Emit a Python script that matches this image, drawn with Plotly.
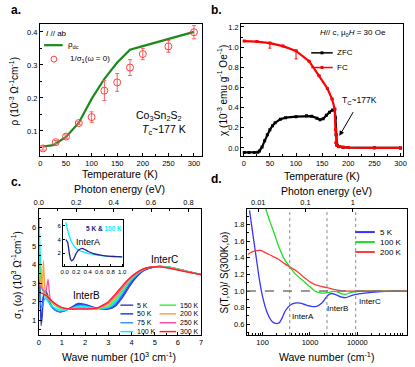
import math
import plotly.graph_objects as go

W, H = 415, 367
def px(x): return x / W
def py(y): return 1 - y / H

FONT = "Liberation Sans"

# ---------------- panel a ----------------
a_T_line = [5, 25, 50, 75, 100, 125, 150, 175, 200, 250, 300]
a_rho_dc = [0.053, 0.057, 0.082, 0.125, 0.197, 0.258, 0.307, 0.346, 0.357, 0.378, 0.400]
a_T_pts = [5, 30, 50, 75, 100, 125, 150, 175, 200, 250, 300]
a_rho_opt = [0.047, 0.066, 0.083, 0.124, 0.142, 0.222, 0.247, 0.292, 0.333, 0.356, 0.399]
a_rho_err = [0.005, 0.005, 0.005, 0.004, 0.016, 0.03, 0.027, 0.024, 0.017, 0.018, 0.02]

# ---------------- panel b ----------------
b_T_fc = [1, 25, 50, 75, 100, 125, 144, 160, 169, 174, 175.5, 176.5, 178, 182, 190, 200, 250, 300]
b_chi_fc = [1.06, 1.055, 1.04, 1.01, 0.963, 0.86, 0.715, 0.59, 0.485, 0.386, 0.18, 0.05, 0.025, 0.012, 0.006, 0.004, 0.001, 0.0]
b_fc_errminus = [0, 0, 0.05, 0, 0.08, 0, 0, 0, 0, 0, 0, 0, 0, 0, 0, 0, 0, 0]
b_T_zfc = [1, 10, 20, 27, 30, 35, 40, 45, 50, 55, 60, 70, 80, 100, 120, 130, 140, 146, 152, 158, 164, 170, 174,
           175.5, 176.5, 178, 182, 190, 200, 250, 300]
b_chi_zfc = [-0.045, -0.045, -0.045, -0.043, -0.03, 0.01, 0.07, 0.13, 0.18, 0.22, 0.25, 0.285, 0.30, 0.31, 0.318,
             0.315, 0.295, 0.28, 0.29, 0.325, 0.355, 0.375, 0.38, 0.30, 0.13, 0.04, 0.015, 0.006, 0.004, 0.001, 0.0]

# ---------------- panel c ----------------
c_wn = [0.02, 0.05, 0.1, 0.15, 0.2, 0.3, 0.4, 0.5, 0.7, 0.9, 1.1, 1.4, 1.7, 2.0, 2.5, 3.0, 3.3, 3.6, 3.9, 4.2,
        4.5, 4.8, 5.2, 5.6, 6.0, 6.5, 7.0]
c_temps = ["5 K", "50 K", "75 K", "100 K", "150 K", "200 K", "250 K", "300 K"]
c_colors = ["#4646b4", "#1f3fff", "#3f8fff", "#00f0ff", "#40f040", "#ffa040", "#ff50a0", "#ff2020"]
c_s5 = [4.0, 3.0, 0.7, 1.2, 2.2, 2.6, 2.3, 1.9, 1.55, 1.45, 1.5, 1.7, 1.9, 1.85, 1.65, 1.6, 1.75, 2.2, 2.8, 3.3, 3.65, 3.8, 3.9, 3.85, 3.75, 3.6, 3.45]
c_s50 = [3.5, 2.5, 1.0, 1.5, 2.3, 2.5, 2.2, 1.85, 1.55, 1.45, 1.5, 1.68, 1.85, 1.82, 1.65, 1.62, 1.8, 2.3, 2.9, 3.35, 3.67, 3.82, 3.9, 3.85, 3.75, 3.6, 3.45]
c_s75 = [5.0, 3.5, 1.8, 1.7, 2.0, 2.2, 2.1, 1.8, 1.55, 1.48, 1.52, 1.65, 1.8, 1.78, 1.63, 1.65, 1.9, 2.4, 3.0, 3.4, 3.7, 3.83, 3.9, 3.85, 3.75, 3.6, 3.45]
c_s100 = [6.5, 5.0, 3.7, 3.0, 2.6, 2.2, 2.0, 1.85, 1.65, 1.55, 1.53, 1.62, 1.75, 1.74, 1.63, 1.7, 2.0, 2.5, 3.05, 3.45, 3.72, 3.84, 3.9, 3.85, 3.75, 3.6, 3.45]
c_s150 = [5.0, 3.8, 3.0, 2.7, 2.5, 2.3, 2.15, 2.0, 1.8, 1.65, 1.58, 1.6, 1.68, 1.68, 1.62, 1.75, 2.1, 2.6, 3.1, 3.5, 3.73, 3.84, 3.9, 3.85, 3.75, 3.6, 3.45]
c_s200 = [3.8, 3.2, 2.9, 2.7, 4.2, 2.4, 2.3, 2.1, 1.85, 1.7, 1.62, 1.6, 1.64, 1.64, 1.62, 1.85, 2.2, 2.7, 3.15, 3.5, 3.74, 3.85, 3.88, 3.82, 3.72, 3.58, 3.45]
c_s250 = [3.0, 2.9, 2.8, 2.7, 2.6, 2.5, 3.2, 2.15, 1.88, 1.72, 1.64, 1.6, 1.62, 1.62, 1.63, 1.92, 2.3, 2.75, 3.2, 3.52, 3.75, 3.85, 3.88, 3.82, 3.72, 3.58, 3.45]
c_s300 = [2.5, 2.5, 2.45, 2.45, 2.4, 2.35, 2.25, 2.1, 1.9, 1.75, 1.65, 1.6, 1.6, 1.6, 1.65, 2.0, 2.4, 2.85, 3.25, 3.55, 3.76, 3.85, 3.87, 3.8, 3.7, 3.57, 3.45]
c_series = [c_s5, c_s50, c_s75, c_s100, c_s150, c_s200, c_s250, c_s300]

inset_wn = [0.02, 0.05, 0.08, 0.1, 0.12, 0.15, 0.2, 0.25, 0.3, 0.35, 0.4, 0.5, 0.6, 0.7, 0.8, 0.9, 1.0]
inset_5K = [4.0, 3.6, 2.0, 1.2, 0.9, 1.1, 2.0, 2.5, 2.7, 2.55, 2.3, 1.95, 1.75, 1.62, 1.55, 1.5, 1.48]
inset_100K = [6.5, 5.4, 4.5, 4.0, 3.6, 3.2, 2.7, 2.4, 2.25, 2.1, 2.0, 1.85, 1.7, 1.62, 1.55, 1.5, 1.48]

# ---------------- panel d ----------------
d_x5 = [53, 62, 73, 86, 100, 127, 161, 190, 221, 260, 300, 380, 480, 620, 800, 1000, 1375, 1800, 2400, 2800, 3400,
        4500, 5700, 7500, 10800, 20000, 50000, 120000]
d_y5 = [1.97, 1.69, 1.41, 1.13, 0.93, 0.73, 0.63, 0.61, 0.615, 0.68, 0.76, 0.83, 0.855, 0.855, 0.835, 0.82, 0.815,
        0.86, 0.95, 0.97, 0.96, 0.93, 0.92, 0.945, 0.965, 0.985, 1.0, 1.0]
d_x100 = [117, 140, 170, 221, 290, 374, 500, 728, 1000, 1375, 1800, 2400, 3000, 3800, 4700, 5700, 7500, 11000, 50000, 120000]
d_y100 = [1.99, 1.85, 1.72, 1.53, 1.38, 1.29, 1.2, 1.12, 1.05, 0.99, 0.975, 0.98, 0.995, 0.99, 0.965, 0.96, 0.985, 1.0, 1.0, 1.0]
d_x200 = [49, 60, 75, 90, 117, 160, 221, 290, 374, 520, 728, 1000, 1375, 2285, 3800, 6000, 120000]
d_y200 = [1.44, 1.47, 1.485, 1.49, 1.46, 1.42, 1.38, 1.33, 1.29, 1.24, 1.17, 1.11, 1.07, 1.04, 1.01, 1.0, 1.0]
d_names = ["5 K", "100 K", "200 K"]
d_colors = ["#3535ff", "#22dd22", "#ff3b3b"]
d_guides = [374, 2285, 9230]
CM_PER_EV = 8065.54

fig = go.Figure()

# panel a traces
fig.add_trace(go.Scatter(x=a_T_line, y=a_rho_dc, mode="lines", line=dict(color="#1a8a1a", width=2.2),
                         xaxis="x", yaxis="y", showlegend=False))
fig.add_trace(go.Scatter(x=a_T_pts, y=a_rho_opt, mode="markers",
                         marker=dict(symbol="circle-open", size=7, color="#ff4040", line=dict(width=1)),
                         error_y=dict(type="data", array=a_rho_err, color="#ff6060", thickness=1, width=2),
                         xaxis="x", yaxis="y", showlegend=False))

# panel b traces
fig.add_trace(go.Scatter(x=b_T_zfc, y=b_chi_zfc, mode="lines+markers", line=dict(color="black", width=2.2),
                         marker=dict(symbol="square", size=3, color="black"),
                         xaxis="x2", yaxis="y2", showlegend=False))
fig.add_trace(go.Scatter(x=b_T_fc, y=b_chi_fc, mode="lines+markers", line=dict(color="#ff0000", width=2.2),
                         marker=dict(symbol="square", size=3, color="#ff0000"),
                         error_y=dict(type="data", symmetric=False, array=[0] * len(b_T_fc),
                                      arrayminus=b_fc_errminus, color="#ff0000", thickness=1, width=1.5),
                         xaxis="x2", yaxis="y2", showlegend=False))

# panel c traces
for name, col, ys in zip(c_temps, c_colors, c_series):
    fig.add_trace(go.Scatter(x=c_wn, y=ys, mode="lines", line=dict(color=col, width=1.3, shape="spline", smoothing=0.6),
                             xaxis="x3", yaxis="y3", showlegend=False, name=name))
fig.add_trace(go.Scatter(x=[c_wn[0] / CM_PER_EV * 1000], y=[c_s5[0]], mode="markers", marker=dict(opacity=0),
                         xaxis="x5", yaxis="y3", showlegend=False, hoverinfo="skip"))
# inset
fig.add_trace(go.Scatter(x=inset_wn, y=inset_100K, mode="lines", line=dict(color="#00f0ff", width=1.3, shape="spline", smoothing=0.6),
                         xaxis="x6", yaxis="y6", showlegend=False))
fig.add_trace(go.Scatter(x=inset_wn, y=inset_5K, mode="lines", line=dict(color="#22228a", width=1.3, shape="spline", smoothing=0.6),
                         xaxis="x6", yaxis="y6", showlegend=False))

# panel d traces
for name, col, xs, ys in zip(d_names, d_colors, [d_x5, d_x100, d_x200], [d_y5, d_y100, d_y200]):
    fig.add_trace(go.Scatter(x=xs, y=ys, mode="lines", line=dict(color=col, width=1.3, shape="spline", smoothing=0.8),
                             xaxis="x4", yaxis="y4", showlegend=False, name=name))
fig.add_trace(go.Scatter(x=[d_x200[0] / CM_PER_EV], y=[d_y200[0]], mode="markers", marker=dict(opacity=0),
                         xaxis="x7", yaxis="y4", showlegend=False, hoverinfo="skip"))

common = dict(showline=True, linecolor="black", linewidth=1, ticks="inside", ticklen=3, tickwidth=1,
              tickcolor="black", showgrid=False, zeroline=False, tickfont=dict(size=7.5, color="black", family=FONT))
minor = dict(ticks="inside", ticklen=2, tickcolor="black", showgrid=False)

def ax(**kw):
    d = dict(common)
    d.update(kw)
    return d

ya = [py(155.7), py(22.7)]
yc = [py(335.0), py(208.3)]
d_lo, d_hi = math.log10(46.7), 5.05
small = dict(size=6, color="black", family=FONT)

fig.update_layout(
    width=W, height=H, margin=dict(l=0, r=0, t=0, b=0),
    paper_bgcolor="white", plot_bgcolor="white",
    font=dict(family=FONT, size=8, color="black"),
    xaxis=ax(mirror=True, domain=[px(35.7), px(201)], range=[-1, 315], dtick=50, tick0=0,
             minor=dict(**minor, dtick=25), anchor="y"),
    yaxis=ax(mirror=True, domain=ya, range=[0.0233, 0.425], dtick=0.1, tick0=0, tickformat=".1f",
             minor=dict(**minor, dtick=0.05), anchor="x"),
    xaxis2=ax(mirror=True, domain=[px(241.5), px(407.3)], range=[-4.8, 305.6], dtick=50, tick0=0,
              minor=dict(**minor, dtick=25), anchor="y2"),
    yaxis2=ax(mirror=True, domain=ya, range=[-0.083, 1.233], dtick=0.2, tick0=0, tickformat=".1f",
              minor=dict(**minor, dtick=0.1), anchor="x2"),
    xaxis3=ax(mirror=False, domain=[px(34.5), px(200.5)], range=[0, 7], dtick=1, tick0=0,
              minor=dict(**minor, dtick=0.5), anchor="y3"),
    yaxis3=ax(mirror=True, domain=yc, range=[0.2, 7], tickvals=[1, 2, 3, 4, 5, 6],
              minor=dict(**minor, tickvals=[0.5, 1.5, 2.5, 3.5, 4.5, 5.5, 6.5]), anchor="x3"),
    xaxis5=ax(overlaying="x3", side="top", anchor="y3", range=[0, 7000 / CM_PER_EV], dtick=0.2, tick0=0,
              tickformat=".1f", minor=dict(**minor, dtick=0.1)),
    xaxis6=ax(mirror=True, domain=[px(59.3), px(121)], range=[-0.03, 1.02], dtick=0.2, tick0=0,
              tickformat=".1f", anchor="y6", ticklen=2, tickfont=small),
    yaxis6=ax(mirror=True, domain=[py(266), py(219.3)], range=[0.1, 6.9], tickvals=[2, 4, 6],
              anchor="x6", ticklen=2, tickfont=small),
    xaxis4=ax(mirror=False, type="log", domain=[px(247.3), px(411)], range=[d_lo, d_hi],
              tickvals=[100, 1000, 10000], ticktext=["100", "1000", "10000"], anchor="y4",
              minor=dict(**minor, tickvals=[50, 60, 70, 80, 90, 200, 300, 400, 500, 600, 700, 800, 900,
                                             2000, 3000, 4000, 5000, 6000, 7000, 8000, 9000,
                                             20000, 30000, 40000, 50000, 60000, 70000, 80000, 90000])),
    yaxis4=ax(mirror=True, domain=yc, range=[0.47, 1.99], tickvals=[0.6, 0.8, 1.0, 1.2, 1.4, 1.6, 1.8],
              tickformat=".1f", minor=dict(**minor, tickvals=[0.5, 0.7, 0.9, 1.1, 1.3, 1.5, 1.7, 1.9]), anchor="x4"),
    xaxis7=ax(type="log", overlaying="x4", side="top", anchor="y4",
              range=[d_lo - math.log10(CM_PER_EV), d_hi - math.log10(CM_PER_EV)],
              tickvals=[0.01, 0.1, 1], ticktext=["0.01", "0.1", "1"]),
)

shapes = []
for g in d_guides:
    shapes.append(dict(type="line", xref="x4", yref="y4 domain", x0=g, x1=g, y0=0, y1=1,
                       line=dict(color="#888888", width=1, dash="dot")))
shapes.append(dict(type="line", xref="x4 domain", yref="y4", x0=0, x1=1, y0=1.0, y1=1.0,
                   line=dict(color="#777777", width=1.5, dash="dash")))

ann = []
def text(x, y, s, size=8, anchor="center", color="black", angle=0, bold=False):
    if bold:
        s = "<b>" + s + "</b>"
    ann.append(dict(x=px(x), y=py(y), xref="paper", yref="paper", text=s, showarrow=False, xanchor=anchor,
                    yanchor="middle", textangle=angle, font=dict(size=size, color=color, family=FONT)))

def leg_line(x0, x1, y, color, width=2):
    shapes.append(dict(type="line", xref="paper", yref="paper", x0=px(x0), x1=px(x1), y0=py(y), y1=py(y),
                       line=dict(color=color, width=width)))

# panel labels
text(4, 9, "a.", 12, "left", bold=True)
text(209, 9, "b.", 12, "left", bold=True)
text(4, 181, "c.", 12, "left", bold=True)
text(209, 178, "d.", 12, "left", bold=True)

# panel a
text(9, 90, "ρ (10<sup>-3</sup> Ω<sup>-1</sup>cm<sup>-1</sup>)", 10, angle=-90)
text(118, 173, "Temperature (K)", 10.5)
text(40, 33, "<i>I</i> // ab", 8, "left")
leg_line(40, 59, 44.3, "#1a8a1a", 2.2)
text(62, 44.3, "ρ<sub>dc</sub>", 8, "left")
shapes.append(dict(type="circle", xref="paper", yref="paper", x0=px(47), x1=px(53), y0=py(61.3), y1=py(55.3),
                   line=dict(color="#ff4040", width=1)))
text(64, 58.3, "1/σ<sub>1</sub>(ω = 0)", 8, "left")
text(157, 115.5, "Co<sub>3</sub>Sn<sub>2</sub>S<sub>2</sub>", 10.5)
text(163, 129, "<i>T</i><sub>c</sub>~177 K", 10.5)

# panel b
text(222, 90, "χ (10<sup>-3</sup> emu g<sup>-1</sup> Oe<sup>-1</sup>)", 10, angle=-90)
text(324, 175, "Temperature (K)", 10.5)
text(356, 32, "<i>H</i>// c, μ<sub>0</sub><i>H</i> = 30 Oe", 8)
leg_line(313, 335, 52, "black", 1.5)
shapes.append(dict(type="rect", xref="paper", yref="paper", x0=px(322.5), x1=px(325.5), y0=py(53.5), y1=py(50.5),
                   fillcolor="black", line=dict(width=0)))
text(337, 52, "ZFC", 8, "left")
leg_line(313, 335, 66.7, "#ff0000", 1.5)
shapes.append(dict(type="rect", xref="paper", yref="paper", x0=px(322.5), x1=px(325.5), y0=py(68.2), y1=py(65.2),
                   fillcolor="#ff0000", line=dict(width=0)))
text(337, 66.7, "FC", 8, "left")
ann.append(dict(x=183, y=0.12, ax=211, ay=0.37, xref="x2", yref="y2", axref="x2", ayref="y2", text="",
                showarrow=True, arrowhead=2, arrowsize=1, arrowwidth=1, arrowcolor="black"))
text(362, 100, "T<sub>C</sub>~177K", 8.5)

# panel c
text(12, 275, "σ<sub>1</sub> (ω) (10<sup>3</sup> Ω<sup>-1</sup>cm<sup>-1</sup>)", 10, angle=-90)
text(117, 356, "Wave number (10<sup>3</sup> cm<sup>-1</sup>)", 10.5)
text(117, 189, "Photon energy (eV)", 10.5)
ann.append(dict(x=2.06, y=2.33, xref="x3", yref="y3", text="InterB", showarrow=False,
                font=dict(size=10, family=FONT, color="black")))
ann.append(dict(x=5.41, y=4.27, xref="x3", yref="y3", text="InterC", showarrow=False,
                font=dict(size=10, family=FONT, color="black")))
ann.append(dict(x=0.41, y=3.6, xref="x6", yref="y6", text="InterA", showarrow=False,
                font=dict(size=9, family=FONT, color="black")))
text(101.5, 228.3, "<b><span style='color:#22228a'>5 K &amp; </span><span style='color:#00e8ff'>100 K</span></b>", 6.5)
rows = [305, 313.7, 322.6, 331.5]
for i, (name, col) in enumerate(zip(c_temps, c_colors)):
    col_i, row_i = divmod(i, 4)
    y = rows[row_i]
    if col_i == 0:
        leg_line(118, 131, y, col, 1.5)
        text(133, y, name, 7, "left")
    else:
        leg_line(158, 175, y, col, 1.5)
        text(177, y, name, 7, "left")

# panel d
text(224, 272, "S(T,ω)/ S(300K,ω)", 10, angle=-90)
text(329, 356, "Wave number (cm<sup>-1</sup>)", 10.5)
text(329, 191, "Photon energy (eV)", 10.5)
for i, (name, col) in enumerate(zip(d_names, d_colors)):
    y = 231.7 + 10 * i
    leg_line(358, 378, y, col, 2)
    text(381, y, name, 8, "left")
ann.append(dict(x=math.log10(728), y=0.69, xref="x4", yref="y4", text="InterA", showarrow=False,
                font=dict(size=8, family=FONT, color="black")))
ann.append(dict(x=math.log10(3860), y=0.79, xref="x4", yref="y4", text="InterB", showarrow=False,
                font=dict(size=8, family=FONT, color="black")))
ann.append(dict(x=math.log10(18800), y=0.87, xref="x4", yref="y4", text="InterC", showarrow=False,
                font=dict(size=8, family=FONT, color="black")))

fig.update_layout(shapes=shapes, annotations=ann)
fig.write_html("out.html", config={"displayModeBar": False},
               post_script="document.body.style.margin='0px';document.body.style.padding='0px';")
